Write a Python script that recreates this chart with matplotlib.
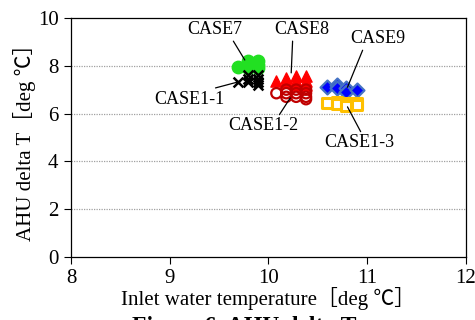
import matplotlib
matplotlib.use('Agg')
import matplotlib.pyplot as plt

plt.rcParams['font.family'] = ['Liberation Serif', 'Noto Sans CJK JP', 'DejaVu Serif']

# CASE7 - green circles
x_case7 = [9.69, 9.79, 9.79, 9.79, 9.89, 9.89, 9.89]
y_case7 = [7.95, 8.2, 8.05, 7.9, 8.2, 8.05, 7.9]
# CASE1-1 - black crosses
x_case1_1 = [9.69, 9.79, 9.79, 9.79, 9.89, 9.89, 9.89, 9.89]
y_case1_1 = [7.3, 7.6, 7.45, 7.3, 7.6, 7.45, 7.3, 7.2]
# CASE8 - red triangles
x_case8 = [10.08, 10.18, 10.18, 10.28, 10.28, 10.28, 10.38, 10.38, 10.38]
y_case8 = [7.35, 7.5, 7.3, 7.55, 7.35, 7.2, 7.55, 7.35, 7.2]
# CASE1-2 - dark red open circles
x_case1_2 = [10.08, 10.18, 10.18, 10.18, 10.28, 10.28, 10.28, 10.38, 10.38, 10.38, 10.38]
y_case1_2 = [6.85, 7.0, 6.85, 6.7, 7.0, 6.85, 6.7, 7.0, 6.85, 6.7, 6.6]
# CASE9 - blue diamonds
x_case9 = [10.59, 10.69, 10.69, 10.79, 10.79, 10.9]
y_case9 = [7.1, 7.2, 7.07, 7.07, 6.92, 7.0]
# CASE1-3 - orange open squares
x_case1_3 = [10.59, 10.69, 10.69, 10.79, 10.79, 10.9, 10.9]
y_case1_3 = [6.45, 6.5, 6.4, 6.45, 6.3, 6.45, 6.35]

fig = plt.figure(figsize=(4.75, 3.2), dpi=100)
ax = fig.add_axes([0.1495, 0.197, 0.8315, 0.747])

ax.scatter(x_case7, y_case7, s=80, marker='o', color='#22E022', zorder=3)
ax.scatter(x_case1_1, y_case1_1, s=50, marker='x', color='black', linewidths=1.8, zorder=3)
ax.scatter(x_case8, y_case8, s=65, marker='^', color='#FF0000', zorder=3)
ax.scatter(x_case1_2, y_case1_2, s=55, marker='o', facecolors='none', edgecolors='#C00000',
           linewidths=1.6, zorder=3)
ax.scatter(x_case9, y_case9, s=50, marker='D', facecolors='#0000FF', edgecolors='#4472C4',
           linewidths=1.6, zorder=3)
ax.scatter(x_case1_3, y_case1_3, s=60, marker='s', facecolors='white', edgecolors='#FFC000',
           linewidths=2.2, zorder=3)

lp = dict(arrowstyle='-', color='black', lw=0.9, shrinkA=0, shrinkB=0)
fs = 13
ax.annotate('CASE7', xy=(9.76, 8.24), xytext=(9.46, 9.5), ha='center', va='center', fontsize=fs,
            arrowprops=dict(lp, relpos=(0.8, 0.0)))
ax.annotate('CASE8', xy=(10.23, 7.7), xytext=(10.34, 9.5), ha='center', va='center', fontsize=fs,
            arrowprops=dict(lp, relpos=(0.33, 0.0)))
ax.annotate('CASE9', xy=(10.8, 7.1), xytext=(11.11, 9.12), ha='center', va='center', fontsize=fs,
            arrowprops=dict(lp, relpos=(0.24, 0.0)))
ax.annotate('CASE1-1', xy=(9.69, 7.32), xytext=(9.2, 6.6), ha='center', va='center', fontsize=fs,
            arrowprops=dict(lp, relpos=(0.63, 0.9)))
ax.annotate('CASE1-2', xy=(10.22, 6.65), xytext=(9.95, 5.48), ha='center', va='center', fontsize=fs,
            arrowprops=dict(lp, relpos=(0.7, 1.0)))
ax.annotate('CASE1-3', xy=(10.8, 6.28), xytext=(10.92, 4.77), ha='center', va='center', fontsize=fs,
            arrowprops=dict(lp, relpos=(0.54, 1.0)))

ax.set_xlim(8, 12)
ax.set_ylim(0, 10)
ax.set_xticks([8, 9, 10, 11, 12])
ax.set_yticks([0, 2, 4, 6, 8, 10])
ax.tick_params(direction='out', length=5, width=0.8, labelsize=15, pad=4)
for yv in [2, 4, 6, 8]:
    ax.axhline(yv, color='#a0a0a0', linestyle=(0, (1, 1)), linewidth=0.9, zorder=1)
for sp in ax.spines.values():
    sp.set_linewidth(0.9)

ax.set_xlabel('Inlet water temperature［deg ℃］', fontsize=15, labelpad=-1)
ax.set_ylabel('AHU delta T［deg ℃］', fontsize=15, labelpad=1)

fig.text(0.278, 0.012, 'Figure 6  AHU delta T', fontsize=17, fontweight='bold', va='top')

fig.savefig('out.png', dpi=100)
